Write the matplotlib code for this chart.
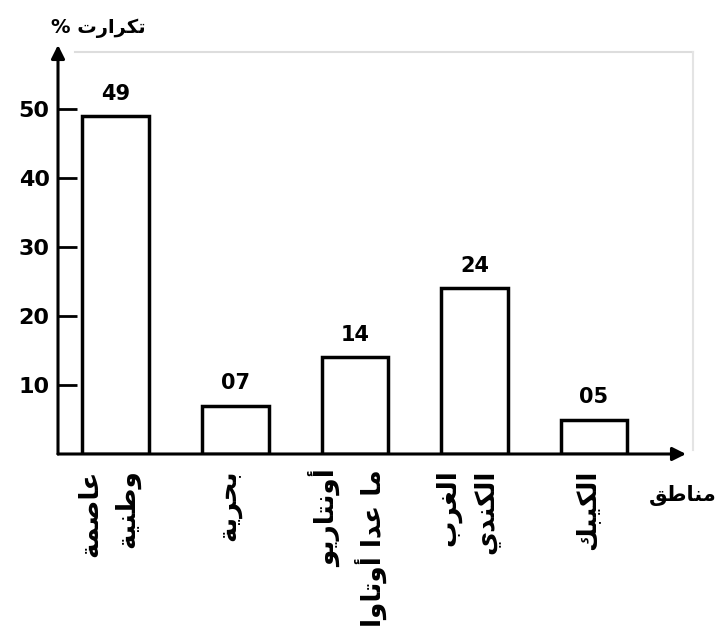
import matplotlib
matplotlib.use("Agg")
import matplotlib.pyplot as plt
from matplotlib.lines import Line2D

# data
regions = ["عاصمة\nوطنية", "بحرية", "أونتاريو\nما عدا أوتاوا", "الغرب\nالكندي", "الكيبك"]
percent = [49, 7, 14, 24, 5]
value_labels = ["49", "07", "14", "24", "05"]
y_ticks = [10, 20, 30, 40, 50]
x_title = "مناطق"
y_title = "تكرارت %"

# matplotlib does no arabic shaping, so pick presentation forms by hand
# (isolated, final, initial, medial)
FORMS = {
    'ا': (0xFE8D, 0xFE8E, None, None), 'أ': (0xFE83, 0xFE84, None, None),
    'ة': (0xFE93, 0xFE94, None, None), 'د': (0xFEA9, 0xFEAA, None, None),
    'ر': (0xFEAD, 0xFEAE, None, None), 'و': (0xFEED, 0xFEEE, None, None),
    'ب': (0xFE8F, 0xFE90, 0xFE91, 0xFE92), 'ت': (0xFE95, 0xFE96, 0xFE97, 0xFE98),
    'ح': (0xFEA1, 0xFEA2, 0xFEA3, 0xFEA4), 'ص': (0xFEB9, 0xFEBA, 0xFEBB, 0xFEBC),
    'ط': (0xFEC1, 0xFEC2, 0xFEC3, 0xFEC4), 'ع': (0xFEC9, 0xFECA, 0xFECB, 0xFECC),
    'غ': (0xFECD, 0xFECE, 0xFECF, 0xFED0), 'ق': (0xFED5, 0xFED6, 0xFED7, 0xFED8),
    'ك': (0xFED9, 0xFEDA, 0xFEDB, 0xFEDC), 'ل': (0xFEDD, 0xFEDE, 0xFEDF, 0xFEE0),
    'م': (0xFEE1, 0xFEE2, 0xFEE3, 0xFEE4), 'ن': (0xFEE5, 0xFEE6, 0xFEE7, 0xFEE8),
    'ي': (0xFEF1, 0xFEF2, 0xFEF3, 0xFEF4),
}


def shape(text):
    lines = []
    for line in text.split("\n"):
        res = []
        for i, c in enumerate(line):
            if c not in FORMS:
                res.append(c)
                continue
            iso, fin, ini, med = FORMS[c]
            prev = line[i - 1] if i > 0 else ""
            nxt = line[i + 1] if i + 1 < len(line) else ""
            jp = prev in FORMS and FORMS[prev][2] is not None
            jn = ini is not None and nxt in FORMS
            if jp and jn:
                res.append(chr(med))
            elif jp:
                res.append(chr(fin))
            elif jn:
                res.append(chr(ini))
            else:
                res.append(chr(iso))
        lines.append("".join(res)[::-1])
    return "\n".join(lines)


plt.rcParams['font.family'] = ['DejaVu Sans']

fig = plt.figure(figsize=(7.18, 6.28), dpi=100)
ax = fig.add_axes([58 / 718, 174 / 628, 628 / 718, 409 / 628])

x = list(range(len(regions)))
ax.bar(x, percent, width=0.56, color="white", edgecolor="black", linewidth=2.5)

for xi, h, lab in zip(x, percent, value_labels):
    ax.text(xi, h + 1.8, lab, ha="center", va="bottom", fontsize=15, fontweight="bold")

ax.set_xlim(-0.485, 4.77)
ax.set_ylim(0, 59.3)
for s in ax.spines.values():
    s.set_visible(False)

ax.set_yticks(y_ticks)
ax.set_yticklabels([str(t) for t in y_ticks], fontsize=16, fontweight="bold")
ax.tick_params(axis="y", direction="in", length=14, width=2, pad=6)
ax.set_xticks(x)
ax.set_xticklabels([""] * len(x))
ax.tick_params(axis="x", length=0)

for xi, name in zip(x, regions):
    ax.text(xi - 0.06, -2.2, shape(name), rotation=90, ha="center", va="top",
            multialignment="right", linespacing=1.55, fontsize=19, fontweight="bold")

# axes drawn as arrows
arrow = dict(arrowstyle="-|>", lw=2.2, color="black", mutation_scale=20, shrinkA=0, shrinkB=0)
ax.annotate("", xy=(0, 1.0), xytext=(0, 0), xycoords="axes fraction", arrowprops=arrow)
ax.annotate("", xy=(1.0, 0), xytext=(0, 0), xycoords="axes fraction", arrowprops=arrow)

# faint frame from the scan
fig.add_artist(Line2D([75 / 718, 693 / 718], [1 - 52 / 628, 1 - 52 / 628], color="#dddddd", lw=1.5))
fig.add_artist(Line2D([693 / 718, 693 / 718], [1 - 52 / 628, 1 - 450 / 628], color="#e4e4e4", lw=1.5))

fig.text(98 / 718, 1 - 28 / 628, shape(y_title), ha="center", va="center", fontsize=14, fontweight="bold")
fig.text(683 / 718, 1 - 495 / 628, shape(x_title), ha="center", va="center", fontsize=15, fontweight="bold")

fig.savefig("out.png", dpi=100)
